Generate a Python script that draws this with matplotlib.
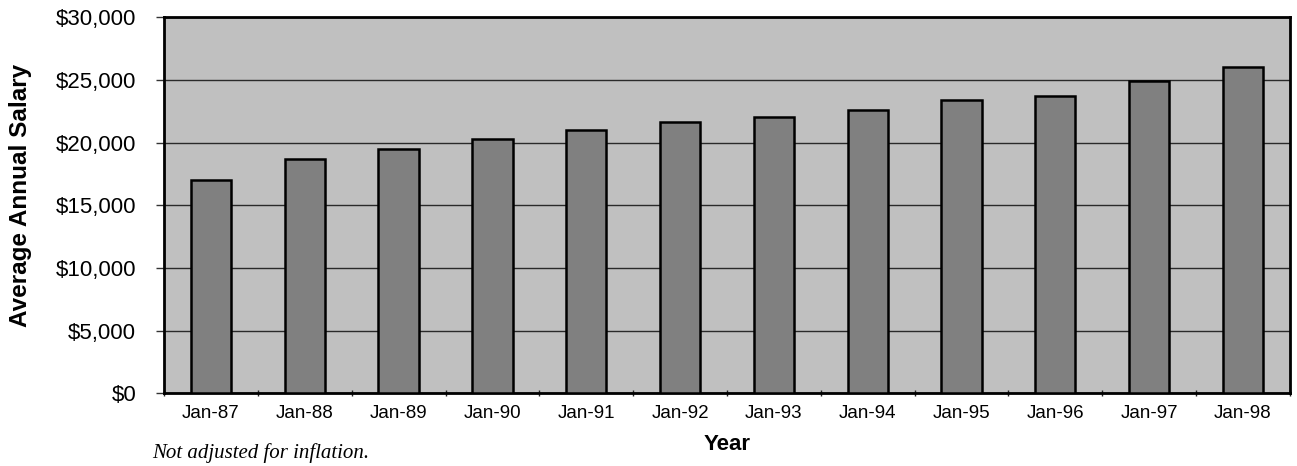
import numpy as np
import matplotlib
matplotlib.use("Agg")
import matplotlib.pyplot as plt
from matplotlib.ticker import FuncFormatter, MultipleLocator

# average annual salary by year (not adjusted for inflation)
years = ["Jan-87", "Jan-88", "Jan-89", "Jan-90", "Jan-91", "Jan-92",
         "Jan-93", "Jan-94", "Jan-95", "Jan-96", "Jan-97", "Jan-98"]
salary = [17000, 18700, 19500, 20300, 21000, 21650,
          22000, 22600, 23400, 23700, 24900, 26050]

plt.rcParams["font.family"] = ["Liberation Sans", "DejaVu Sans"]

fig = plt.figure(figsize=(12.97, 4.66), dpi=100)
ax = fig.add_axes([0.1265, 0.1556, 0.8680, 0.8079])

x = np.arange(len(years))
ax.set_facecolor("#c0c0c0")
ax.bar(x, salary, width=0.43, color="#808080", edgecolor="black",
       linewidth=1.8, zorder=3)

ax.set_ylim(0, 30000)
ax.set_xlim(-0.5, len(years) - 0.5)
ax.yaxis.set_major_locator(MultipleLocator(5000))
ax.yaxis.set_major_formatter(FuncFormatter(lambda v, _: f"${v:,.0f}"))
ax.grid(axis="y", color="#2a2a2a", linewidth=1.0, zorder=1)
ax.set_axisbelow(True)

# category labels centred on bars, tick marks on the boundaries
ax.set_xticks(x)
ax.set_xticklabels(years, fontsize=13.5)
ax.set_xticks(np.arange(-0.5, len(years)), minor=True)
ax.tick_params(axis="x", which="major", length=0, pad=8)
ax.tick_params(axis="x", which="minor", length=5, width=1.0,
               direction="inout", color="#222222")
ax.tick_params(axis="y", length=6, width=1.0, pad=14, labelsize=16,
               color="#333333")

for side in ["left", "right", "top", "bottom"]:
    ax.spines[side].set_linewidth(2.0)
    ax.spines[side].set_color("black")

ax.set_ylabel("Average Annual Salary", fontsize=17.5, fontweight="bold")
ax.yaxis.set_label_coords(-0.117, 0.525)
ax.set_xlabel("Year", fontsize=16, fontweight="bold", labelpad=9)

fig.text(0.117, 0.018, "Not adjusted for inflation.", fontsize=15,
         style="italic", family=["Liberation Serif", "DejaVu Serif"])

fig.savefig("out.png", dpi=100)
